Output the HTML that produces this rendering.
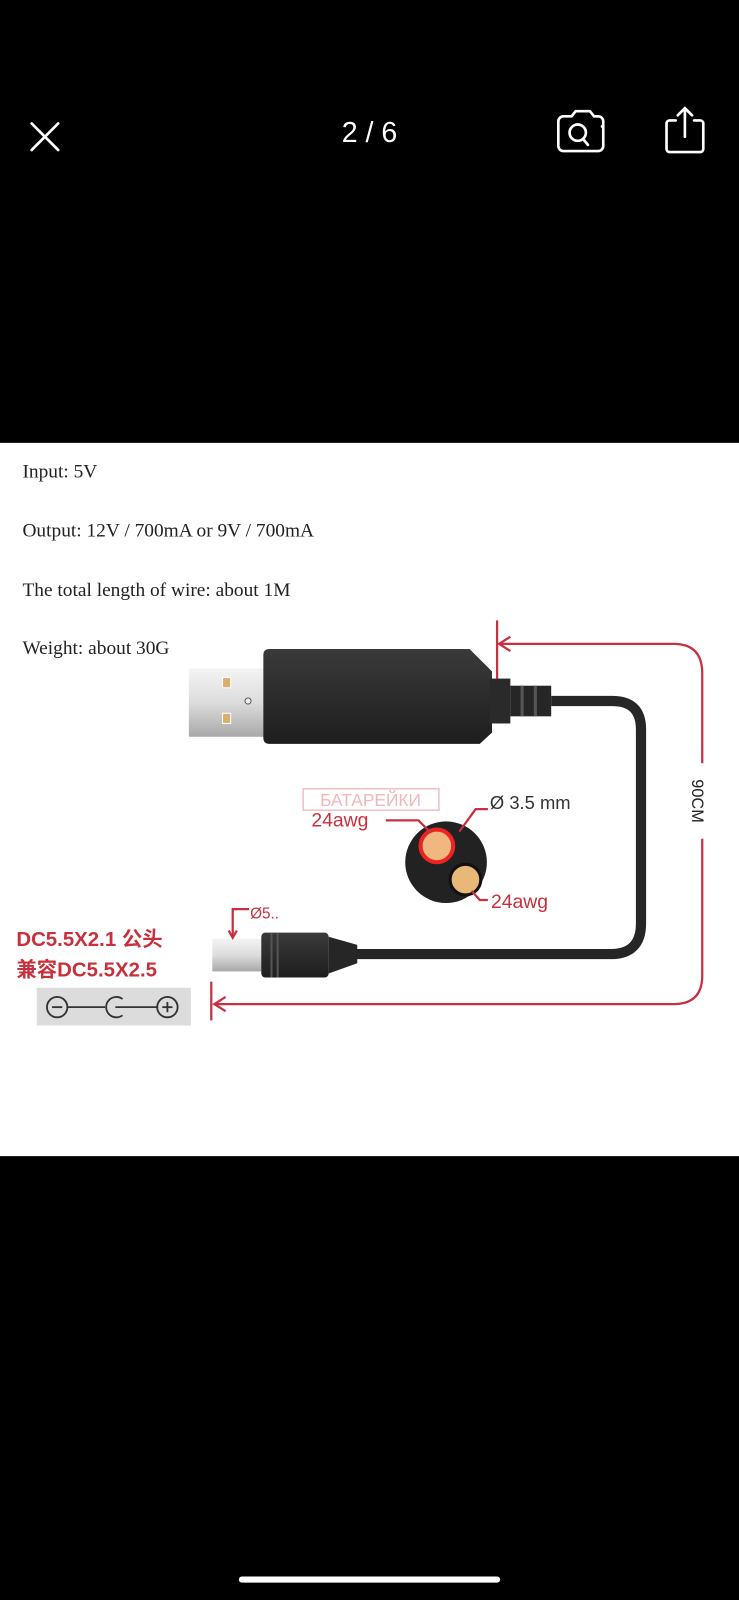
<!DOCTYPE html>
<html><head><meta charset="utf-8"><style>
html,body{margin:0;padding:0;background:#000;width:739px;height:1600px;overflow:hidden}
svg{display:block}
</style></head><body>
<svg width="739" height="1600" viewBox="0 0 724 1568" preserveAspectRatio="none" xmlns="http://www.w3.org/2000/svg">
<defs>
<linearGradient id="met" x1="0" y1="0" x2="0" y2="1"><stop offset="0" stop-color="#f4f4f4"/><stop offset="0.5" stop-color="#dcdcdc"/><stop offset="1" stop-color="#a8a8a8"/></linearGradient>
<linearGradient id="blk" x1="0" y1="0" x2="0" y2="1"><stop offset="0" stop-color="#3a3a3a"/><stop offset="1" stop-color="#1e1e1e"/></linearGradient>
</defs>
<rect x="0" y="0" width="724" height="1568" fill="#000"/>
<!-- top bar -->
<g stroke="#fff" stroke-width="2.6" fill="none" stroke-linecap="round">
<line x1="31" y1="121" x2="57" y2="147"/><line x1="57" y1="121" x2="31" y2="147"/>
<path d="M552 114 h8 l4-5 h14 l4 5 h4 a5 5 0 0 1 5 5 v24 a5 5 0 0 1-5 5 h-34 a5 5 0 0 1-5-5 v-24 a5 5 0 0 1 5-5z"/>
<circle cx="566" cy="130" r="8"/><line x1="571" y1="136" x2="576" y2="142"/>
<path d="M662 118 h-6 a3 3 0 0 0-3 3 v25 a3 3 0 0 0 3 3 h30 a3 3 0 0 0 3-3 v-25 a3 3 0 0 0-3-3 h-6"/>
<line x1="671" y1="106" x2="671" y2="134"/><path d="M664 113 l7-7 7 7"/>
</g>
<circle cx="590" cy="124" r="1.5" fill="#fff"/>
<text x="362" y="139" fill="#fff" font-family="Liberation Sans, sans-serif" font-size="28" text-anchor="middle">2 / 6</text>
<!-- white image -->
<rect x="0" y="434" width="724" height="699" fill="#fff"/>
<g font-family="Liberation Serif, serif" font-size="19" fill="#222">
<text x="22" y="468">Input: 5V</text>
<text x="22" y="526">Output: 12V / 700mA or 9V / 700mA</text>
<text x="22" y="584">The total length of wire: about 1M</text>
<text x="22" y="641">Weight: about 30G</text>
</g>
<!-- cable -->
<path d="M540 687 H600 Q628 687 628 715 V905 Q628 935 598 935 H345" fill="none" stroke="#262626" stroke-width="10"/>
<!-- USB -->
<rect x="185" y="655" width="75" height="67" fill="url(#met)"/>
<rect x="218" y="664" width="8" height="10" fill="#d9b070" stroke="#fff"/>
<rect x="218" y="699" width="8" height="10" fill="#d9b070" stroke="#fff"/>
<circle cx="243" cy="687" r="3" fill="#eee" stroke="#555"/>
<path d="M264 636 H460 L482 658 V718 L470 729 H264 Q258 729 258 723 V642 Q258 636 264 636Z" fill="url(#blk)"/>
<rect x="480" y="665" width="20" height="44" fill="#2a2a2a"/>
<rect x="500" y="672" width="40" height="30" fill="#262626"/>
<rect x="510" y="672" width="3" height="30" fill="#555"/><rect x="523" y="672" width="3" height="30" fill="#555"/>
<!-- DC plug -->
<rect x="208" y="920" width="50" height="32" fill="url(#met)"/>
<rect x="256" y="914" width="66" height="44" rx="4" fill="url(#blk)"/>
<rect x="265" y="914" width="2" height="44" fill="#555"/><rect x="271" y="914" width="2" height="44" fill="#555"/>
<path d="M322 918 L350 926 V944 L322 954Z" fill="#262626"/>
<!-- cross section -->
<circle cx="437" cy="845" r="40" fill="#222"/>
<circle cx="428" cy="829" r="16" fill="#f0b880" stroke="#e22" stroke-width="4"/>
<circle cx="456" cy="862" r="15" fill="#e8b878" stroke="#111" stroke-width="3"/>
<!-- red dims -->
<g stroke="#c83040" stroke-width="2.2" fill="none">
<line x1="487" y1="608" x2="487" y2="665"/>
<path d="M489 631 H660 Q688 631 688 660 V748"/>
<path d="M688 822 V956 Q688 984 660 984 H210"/>
<line x1="207" y1="962" x2="207" y2="1000"/>
<path d="M500 624 L489 631 L500 638"/>
<path d="M221 977 L210 984 L221 991"/>
<path d="M378 804 H410 L422 816"/>
<path d="M478 793 H466 L450 815"/>
<path d="M478 882 H470 L462 873"/>
<path d="M244 891 H228 V918"/><path d="M224 912 L228 919 L232 912"/>
</g>
<text transform="translate(678,785) rotate(90)" font-family="Liberation Sans, sans-serif" font-size="16" fill="#222" text-anchor="middle">90CM</text>
<rect x="297" y="773" width="133" height="21" fill="none" stroke="#f3c0c4" stroke-width="1.5"/>
<text x="363" y="790" font-family="Liberation Sans, sans-serif" font-size="17" fill="#f0b8bc" text-anchor="middle">БАТАРЕЙКИ</text>
<g font-family="Liberation Sans, sans-serif" font-size="19" fill="#c8303c">
<text x="305" y="810">24awg</text>
<text x="481" y="890">24awg</text>
</g>
<text x="480" y="793" font-family="Liberation Sans, sans-serif" font-size="18" fill="#333">Ø 3.5 mm</text>
<text x="245" y="900" font-family="Liberation Sans, sans-serif" font-size="15" fill="#c8303c">Ø5..</text>
<g font-family="Liberation Sans, 'Noto Sans CJK SC', sans-serif" font-size="20" font-weight="bold" fill="#c8303c">
<text x="16" y="927">DC5.5X2.1 公头</text>
<text x="16" y="957">兼容DC5.5X2.5</text>
</g>
<rect x="36" y="968" width="151" height="37" fill="#dcdcdc"/>
<g stroke="#333" stroke-width="1.8" fill="none">
<circle cx="56" cy="987" r="10"/><line x1="51" y1="987" x2="61" y2="987"/>
<line x1="66" y1="987" x2="103" y2="987"/>
<path d="M120 979 A10 10 0 1 0 120 995"/>
<line x1="113" y1="987" x2="155" y2="987"/>
<circle cx="164" cy="987" r="10"/><line x1="159" y1="987" x2="169" y2="987"/><line x1="164" y1="982" x2="164" y2="992"/>
</g>
<!-- home bar -->
<rect x="234" y="1545" width="256" height="6" rx="3" fill="#fff"/>
</svg>
</body></html>
